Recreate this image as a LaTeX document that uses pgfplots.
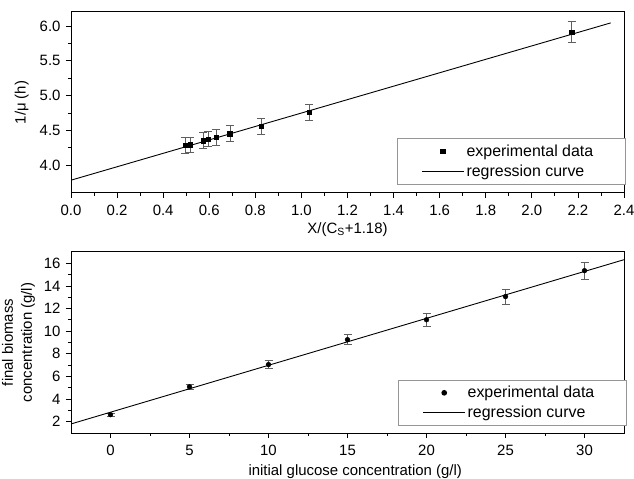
\documentclass[border=0pt]{standalone}
\usepackage{fontspec}
\setmainfont{Liberation Sans}
\usepackage{pgfplots}
\pgfplotsset{compat=1.18}
\definecolor{errgray}{RGB}{95,95,95}
\definecolor{boxgray}{RGB}{150,150,150}

\pgfplotsset{
  panel/.style={
    scale only axis, width=553bp, height=181bp,
    anchor=south west,
    axis line style={line width=1bp},
    tick pos=left, tick align=outside,
    major tick length=5bp, minor tick length=3bp,
    every tick/.style={black, line width=0.8bp},
    minor tick num=1,
    /pgf/number format/assume math mode=true,
    tick label style={font=\fontsize{15}{17}\selectfont},
    xticklabel style={yshift=-4bp},
    yticklabel style={xshift=-2bp},
    label style={font=\fontsize{15}{19}\selectfont},
    legend cell align=left,
    legend style={draw=boxgray, line width=0.8bp,
      font=\fontsize{16}{19}\selectfont,
      inner xsep=24bp, inner ysep=4bp, row sep=3bp},
  },
  regline/.style={black, line width=0.9bp,
    legend image code/.code={\draw[black, line width=0.9bp] (0bp,0bp) -- (42bp,0bp);}},
  datapts/.style={only marks, black,
    /pgfplots/error bars/y dir=both,
    /pgfplots/error bars/y explicit,
    /pgfplots/error bars/error bar style={errgray, line width=0.7bp},
    /pgfplots/error bars/error mark options={errgray, rotate=90, mark size=4bp, line width=0.7bp}},
}

\begin{document}
\begin{tikzpicture}
\path[use as bounding box] (0bp,0bp) rectangle (634bp,479bp);

% upper panel
\begin{axis}[panel, at={(71bp,286bp)},
  xmin=0, xmax=2.4, ymin=3.6, ymax=6.2,
  xtick={0,0.2,...,2.4}, ytick={4.0,4.5,...,6.0},
  xticklabel style={/pgf/number format/.cd, fixed, fixed zerofill, precision=1},
  yticklabel style={/pgf/number format/.cd, fixed, fixed zerofill, precision=1},
  xlabel={X/(C\textsubscript{S}+1.18)},
  ylabel={1/μ (h)},
  xlabel style={at={(axis description cs:0.5,-0.2)}, anchor=center},
  ylabel style={at={(axis description cs:-0.089,0.5)}, anchor=center},
  legend style={at={(axis description cs:1.003,0.048)}, anchor=south east},
]
\addplot[datapts, mark=square*, mark size=2.3bp,
  legend image code/.code={\draw[black] plot[mark=square*, mark size=2.3bp] coordinates {(21bp,0bp)};}]
  table[x=x, y=y, y error=e] {
x      y      e
0.495  4.288  0.115
0.518  4.290  0.110
0.573  4.355  0.110
0.596  4.374  0.110
0.631  4.400  0.110
0.690  4.450  0.115
0.826  4.557  0.115
1.033  4.758  0.115
2.173  5.909  0.150
};
\addlegendentry{experimental data\hspace*{6bp}}
\addplot[regline] coordinates {(0,3.784) (2.342,6.043)};
\addlegendentry{regression curve}
\end{axis}

% lower panel
\begin{axis}[panel, at={(71bp,46bp)},
  xmin=-2.5, xmax=32.5, ymin=1, ymax=17,
  xtick={0,5,...,30}, ytick={2,4,...,16},
  xlabel={initial glucose concentration (g/l)},
  ylabel={final biomass\\concentration (g/l)},
  xlabel style={at={(axis description cs:0.514,-0.213)}, anchor=center},
  ylabel style={at={(axis description cs:-0.095,0.5)}, anchor=center, align=center},
  legend style={at={(axis description cs:1.005,0.04)}, anchor=south east},
]
\addplot[datapts, mark=*, mark size=2.4bp,
  legend image code/.code={\draw[black] plot[mark=*, mark size=2.4bp] coordinates {(21bp,0bp)};}]
  table[x=x, y=y, y error=e] {
x   y      e
0   2.62   0.15
5   5.08   0.25
10  7.05   0.35
15  9.25   0.45
20  11.01  0.59
25  13.06  0.66
30  15.35  0.76
};
\addlegendentry{experimental data\hspace*{6bp}}
\addplot[regline] coordinates {(-2.5,1.80) (32.5,16.32)};
\addlegendentry{regression curve}
\end{axis}
\end{tikzpicture}
\end{document}
